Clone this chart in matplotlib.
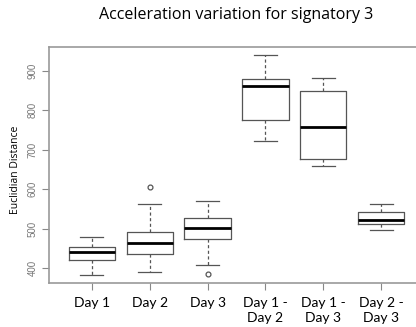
import matplotlib
matplotlib.use("Agg")
import matplotlib.pyplot as plt

labels = ["Day 1", "Day 2", "Day 3", "Day 1 -\nDay 2", "Day 1 -\nDay 3", "Day 2 -\nDay 3"]
whislo = [384, 390, 408, 723, 659, 496]
q1 = [421, 435, 475, 775, 676, 512]
med = [442, 465, 501, 862, 757, 521]
q3 = [453, 492, 526, 879, 849, 542]
whishi = [480, 562, 571, 939, 881, 562]
fliers = [[], [605], [386], [], [], []]

stats = []
for i, lab in enumerate(labels):
    stats.append(dict(label=lab, whislo=whislo[i], q1=q1[i], med=med[i],
                      q3=q3[i], whishi=whishi[i], fliers=fliers[i]))

fig = plt.figure(figsize=(4.16, 3.27), dpi=100)
ax = fig.add_axes([49 / 416, 1 - 283.3 / 327, (424 - 49) / 416, (283.3 - 46.7) / 327])

edge = "#555555"
ax.bxp(stats, positions=range(1, 7), widths=0.8, showfliers=True,
       boxprops=dict(color=edge, linewidth=0.9),
       whiskerprops=dict(color=edge, linewidth=0.9, linestyle=(0, (2.5, 2))),
       capprops=dict(color=edge, linewidth=0.9),
       medianprops=dict(color="black", linewidth=2.0),
       flierprops=dict(marker="o", markersize=3.5, markerfacecolor="none",
                       markeredgecolor=edge, markeredgewidth=0.9),
       capwidths=0.4)

ax.set_xlim(0.26, 6.74)
ax.set_ylim(361.8, 960.8)
ax.set_yticks([400, 500, 600, 700, 800, 900])
ax.set_yticklabels(["400", "500", "600", "700", "800", "900"], rotation=90,
                   va="center", fontsize=7, color="#777777", family="Liberation Sans")
ax.set_xticks(range(1, 7))
ax.set_xticklabels(labels, fontsize=10, family="Lato", linespacing=1.3)
ax.tick_params(axis="y", length=5, width=0.8, color="#888888", pad=3)
ax.tick_params(axis="x", length=5, width=0.8, color="#888888", pad=5)
for side in ["left", "bottom", "top", "right"]:
    ax.spines[side].set_color("#999999")
    ax.spines[side].set_linewidth(1.2)

ax.set_ylabel("Euclidian Distance", family="Open Sans", fontsize=7.5)
ax.yaxis.set_label_coords(-27.5 / 375, 1 - (170 - 46.7) / 236.6)
fig.text(236 / 416, 1 - 15 / 327, "Acceleration variation for signatory 3",
         ha="center", va="center", fontsize=11.5, family="Open Sans")

fig.savefig("out.png", dpi=100)
